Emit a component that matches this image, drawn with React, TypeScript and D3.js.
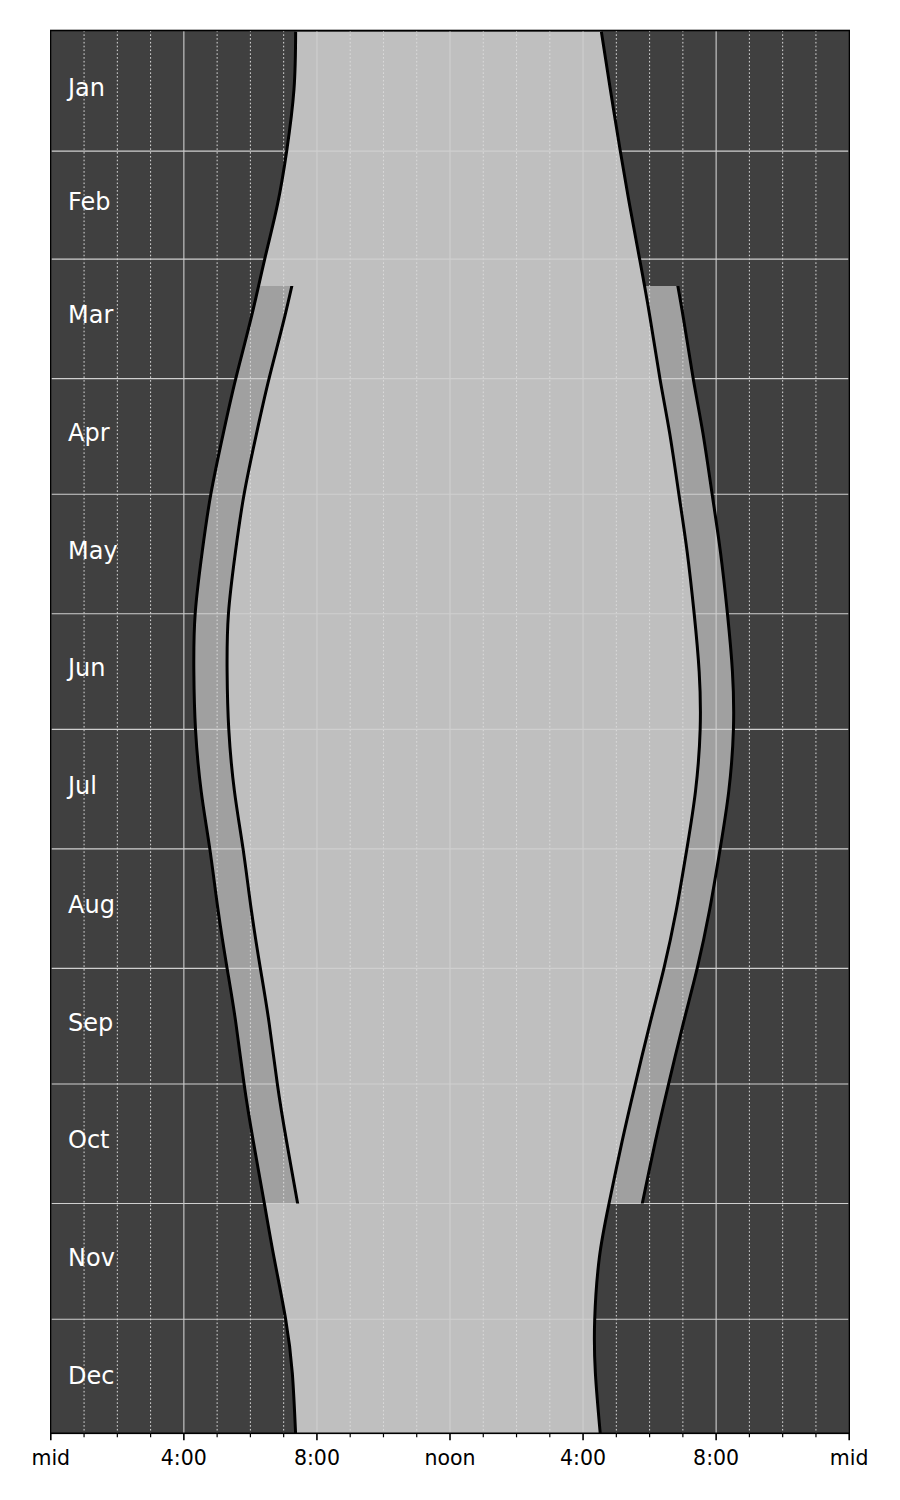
import React from 'react';
import * as d3 from 'd3';

// ---- data ----
const monthNames = ['Jan', 'Feb', 'Mar', 'Apr', 'May', 'Jun', 'Jul', 'Aug', 'Sep', 'Oct', 'Nov', 'Dec'];
const monthStartDays = [0, 31, 59, 90, 120, 151, 181, 212, 243, 273, 304, 334, 365];

// day of year (0 = Jan 1), standard-time sunrise / sunset in hours
const sampleDays = [0, 15, 31, 45, 59, 74, 90, 104, 120, 135, 151, 166, 181, 197, 212, 228, 243, 257, 273, 288, 304, 318, 334, 348, 364];
const sunriseHours = [7.36, 7.31, 7.09, 6.81, 6.43, 6.03, 5.56, 5.19, 4.81, 4.55, 4.34, 4.3, 4.35, 4.52, 4.78, 5.03, 5.3, 5.56, 5.81, 6.09, 6.42, 6.71, 7.06, 7.26, 7.36];
const sunsetHours = [16.55, 16.82, 17.12, 17.4, 17.7, 18.01, 18.31, 18.6, 18.88, 19.13, 19.34, 19.49, 19.52, 19.38, 19.12, 18.8, 18.43, 18.02, 17.57, 17.17, 16.78, 16.49, 16.35, 16.37, 16.52];

const dstStartDay = 66; // Mar 8
const dstEndDay = 304; // Nov 1
const dstOffsetHours = 1;

const tickHours = [0, 4, 8, 12, 16, 20, 24];
const tickLabels = ['mid', '4:00', '8:00', 'noon', '4:00', '8:00', 'mid'];
const minorHours = d3.range(0, 25, 1);

// ---- layout ----
const W = 900;
const H = 1500;
const left = 50.8;
const right = 849.2;
const top = 30.5;
const bottom = 1433.3;

const COLORS = {
  night: '#404040',
  day: '#bfbfbf',
  dst: '#a0a0a0',
  grid: '#cfcfcf',
  gridMinor: '#dcdcdc',
};

export default function App() {
  const x = d3.scaleLinear().domain([0, 24]).range([left, right]);
  const y = d3.scaleLinear().domain([-0.3, 363.6]).range([top, bottom]);

  const rows = sampleDays.map((d, i) => ({ day: d, rise: sunriseHours[i], set: sunsetHours[i] }));
  const curve = d3.curveNatural;

  const dayArea = d3
    .area<any>()
    .y((d) => y(d.day))
    .x0((d) => x(d.rise))
    .x1((d) => x(d.set))
    .curve(curve);

  const riseBand = d3
    .area<any>()
    .y((d) => y(d.day))
    .x0((d) => x(d.rise))
    .x1((d) => x(d.rise + dstOffsetHours))
    .curve(curve);

  const setBand = d3
    .area<any>()
    .y((d) => y(d.day))
    .x0((d) => x(d.set))
    .x1((d) => x(d.set + dstOffsetHours))
    .curve(curve);

  const lineOf = (f: (d: any) => number) =>
    d3
      .line<any>()
      .x((d) => x(f(d)))
      .y((d) => y(d.day))
      .curve(curve)(rows) as string;

  const yDst0 = y(dstStartDay);
  const yDst1 = y(dstEndDay);

  const font = "'DejaVu Sans', Verdana, sans-serif";
  const monthFs = 24;
  const tickFs = 20.5;

  return (
    <div style={{ position: 'absolute', left: 0, top: 0 }}>
      <svg width={W} height={H} viewBox={`0 0 ${W} ${H}`} style={{ display: 'block', background: '#fff' }}>
        <defs>
          <clipPath id="plotClip">
            <rect x={left} y={top} width={right - left} height={bottom - top} />
          </clipPath>
          <clipPath id="dstClip">
            <rect x={left} y={yDst0} width={right - left} height={yDst1 - yDst0} />
          </clipPath>
        </defs>

        <rect x={left} y={top} width={right - left} height={bottom - top} fill={COLORS.night} />

        <g clipPath="url(#plotClip)">
          <path d={dayArea(rows) as string} fill={COLORS.day} />
          <g clipPath="url(#dstClip)">
            <path d={riseBand(rows) as string} fill={COLORS.dst} />
            <path d={setBand(rows) as string} fill={COLORS.dst} />
          </g>

          {/* minor vertical grid */}
          {minorHours
            .filter((h) => h % 4 !== 0)
            .map((h) => (
              <line
                key={'mn' + h}
                x1={x(h)}
                x2={x(h)}
                y1={top}
                y2={bottom}
                stroke={COLORS.gridMinor}
                strokeWidth={1}
                strokeDasharray="1.6,2.2"
              />
            ))}
          {/* major vertical grid */}
          {tickHours.map((h) => (
            <line key={'mj' + h} x1={x(h)} x2={x(h)} y1={top} y2={bottom} stroke={COLORS.grid} strokeWidth={1.1} />
          ))}
          {/* month lines */}
          {monthStartDays.slice(1, 12).map((d) => (
            <line key={'m' + d} x1={left} x2={right} y1={y(d)} y2={y(d)} stroke={COLORS.grid} strokeWidth={1.1} />
          ))}

          <path d={lineOf((d) => d.rise)} fill="none" stroke="#000" strokeWidth={3} />
          <path d={lineOf((d) => d.set)} fill="none" stroke="#000" strokeWidth={3} />
          <g clipPath="url(#dstClip)">
            <path d={lineOf((d) => d.rise + dstOffsetHours)} fill="none" stroke="#000" strokeWidth={3} />
            <path d={lineOf((d) => d.set + dstOffsetHours)} fill="none" stroke="#000" strokeWidth={3} />
          </g>
        </g>

        {/* month labels */}
        {monthNames.map((m, i) => {
          const mid = (monthStartDays[i] + monthStartDays[i + 1]) / 2;
          return (
            <text key={m} x={68} y={y(mid) + 4.6} fill="#fff" fontFamily={font} fontSize={monthFs}>
              {m}
            </text>
          );
        })}

        {/* frame */}
        <rect x={left} y={top} width={right - left} height={bottom - top} fill="none" stroke="#000" strokeWidth={1.6} />

        {/* x axis ticks */}
        {minorHours
          .filter((h) => h % 4 !== 0)
          .map((h) => (
            <line key={'tm' + h} x1={x(h)} x2={x(h)} y1={bottom} y2={bottom + 4} stroke="#000" strokeWidth={1.2} />
          ))}
        {tickHours.map((h, i) => (
          <g key={'t' + h}>
            <line x1={x(h)} x2={x(h)} y1={bottom} y2={bottom + 7} stroke="#000" strokeWidth={1.6} />
            <text x={x(h)} y={1465} textAnchor="middle" fontFamily={font} fontSize={tickFs} fill="#000">
              {tickLabels[i]}
            </text>
          </g>
        ))}
      </svg>
    </div>
  );
}
